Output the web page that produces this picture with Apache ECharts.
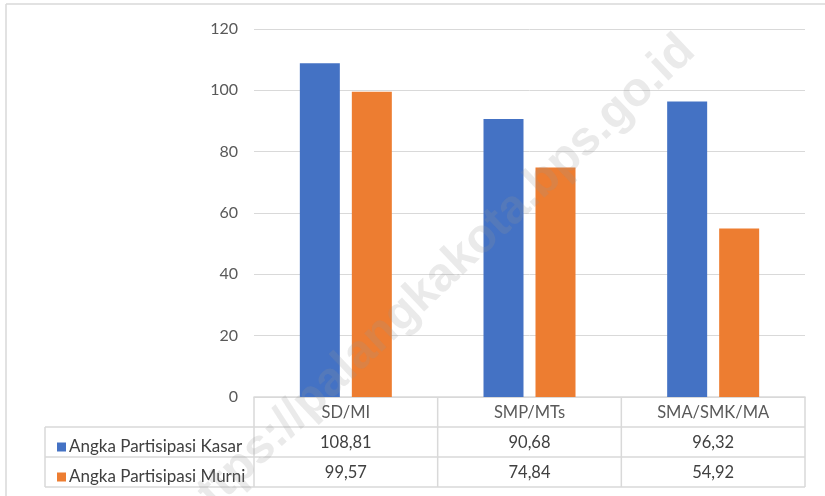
<!DOCTYPE html>
<html>
<head>
<meta charset="utf-8">
<script src="https://cdn.jsdelivr.net/npm/echarts@6/dist/echarts.min.js"></script>
<style>
  html, body { margin: 0; padding: 0; background: #fff; }
  #chart { width: 825px; height: 496px; }
</style>
</head>
<body>
<div id="chart"></div>
<script>
// data
var categories = ['SD/MI', 'SMP/MTs', 'SMA/SMK/MA'];
var seriesNames = ['Angka Partisipasi Kasar', 'Angka Partisipasi Murni'];
var apk = [108.81, 90.68, 96.32];
var apm = [99.57, 74.84, 54.92];
var yTicks = [0, 20, 40, 60, 80, 100, 120];

var blue = '#4472c4';
var orange = '#ed7d31';
var lineGray = '#d9d9d9';
var textGray = '#404040';
var font = 'Lato, "Open Sans", sans-serif';

var gridLeft = 254, gridRight = 805, gridTop = 29, gridBottom = 397;
var rowH = 30;

function fmt(v) {
  return v.toFixed(2).replace('.', ',');
}

var chart = echarts.init(document.getElementById('chart'));

function tableAxis(values, offset) {
  return {
    type: 'category',
    data: values.map(fmt),
    position: 'bottom',
    offset: offset,
    axisLine: { show: false },
    axisTick: { show: false },
    axisLabel: { margin: 7, color: textGray, fontSize: 16.5, fontFamily: font }
  };
}

// table borders
var L = function (x1, y1, x2, y2) {
  return { type: 'line', shape: { x1: x1, y1: y1, x2: x2, y2: y2 },
    style: { stroke: lineGray, lineWidth: 1.5 }, silent: true };
};
var cellW = (gridRight - gridLeft) / categories.length;
var tableLines = [
  L(6, 4, 825, 4), L(6, 4, 6, 496),
  L(45, gridBottom + rowH, gridRight, gridBottom + rowH),
  L(45, gridBottom + 2 * rowH, gridRight, gridBottom + 2 * rowH),
  L(45, gridBottom + 3 * rowH, gridRight, gridBottom + 3 * rowH),
  L(45, gridBottom + rowH, 45, gridBottom + 3 * rowH)
];
for (var i = 0; i <= categories.length; i++) {
  var x = gridLeft + i * cellW;
  tableLines.push(L(x, gridBottom, x, gridBottom + 3 * rowH));
}

var option = {
  animation: false,
  grid: { left: gridLeft, right: 825 - gridRight, top: gridTop, bottom: 496 - gridBottom },
  legend: {
    orient: 'vertical',
    left: 52,
    top: gridBottom + rowH + 4,
    icon: 'rect',
    itemWidth: 9,
    itemHeight: 9,
    itemGap: 8,
    selectedMode: false,
    textStyle: { color: textGray, fontSize: 17, fontFamily: font, lineHeight: 22, padding: [0, 0, 0, -2] },
    data: seriesNames
  },
  xAxis: [
    {
      type: 'category',
      data: categories,
      axisLine: { lineStyle: { color: lineGray, width: 1.5 } },
      axisTick: { show: false },
      axisLabel: { margin: 7, color: '#595959', fontSize: 16.5, fontFamily: font }
    },
    tableAxis(apk, rowH),
    tableAxis(apm, 2 * rowH)
  ],
  yAxis: {
    type: 'value',
    min: 0,
    max: 120,
    interval: 20,
    axisLine: { show: false },
    axisTick: { show: false },
    axisLabel: { color: '#595959', fontSize: 16, fontFamily: font, margin: 16,
      formatter: function (v) { return yTicks.indexOf(v) >= 0 ? String(v) : ''; } },
    splitLine: { lineStyle: { color: lineGray, width: 1 } }
  },
  series: [
    { name: seriesNames[0], type: 'bar', data: apk, barWidth: 40, barGap: '30%',
      itemStyle: { color: blue } },
    { name: seriesNames[1], type: 'bar', data: apm, barWidth: 40,
      itemStyle: { color: orange } }
  ],
  graphic: tableLines.concat([
    {
      type: 'text',
      x: 436, y: 282,
      rotation: 43.4 * Math.PI / 180,
      z: 100,
      silent: true,
      style: {
        text: 'https://palangkakota.bps.go.id',
        fontSize: 48,
        fontWeight: 'bold',
        fontFamily: '"Liberation Sans", Arial, sans-serif',
        fill: 'rgba(150,150,150,0.2)',
        align: 'center',
        verticalAlign: 'middle'
      }
    }
  ])
};

chart.setOption(option);
</script>
</body>
</html>
